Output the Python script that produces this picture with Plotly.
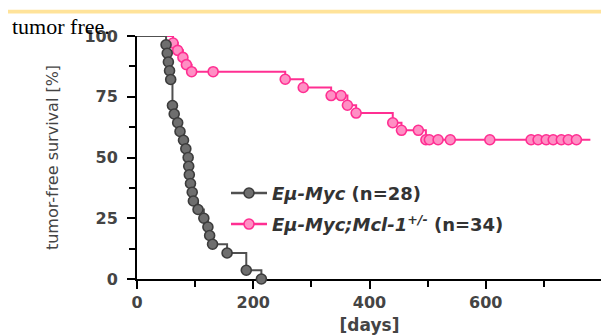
import plotly.graph_objects as go

# ---- data (Kaplan-Meier step points) ----
# Eμ-Myc (n=28): day of each step and % tumor-free after the step
myc_days = [50, 52, 54, 56, 58, 61, 64, 70, 74, 80, 84, 88, 89, 90, 92, 95, 97,
            105, 115, 122, 125, 130, 155, 188, 214]
myc_surv = [96.4, 92.9, 89.3, 85.7, 82.1, 71.4, 67.9, 64.3, 60.7, 57.1, 53.6,
            50.0, 46.4, 42.9, 39.3, 35.7, 32.1, 28.6, 25.0, 21.4, 17.9, 14.3,
            10.7, 3.6, 0.0]
myc_end_day = 214

# Eμ-Myc;Mcl-1+/- (n=34): steps and censored marks
mcl_days = [62, 70, 79, 85, 94, 131, 255, 286, 334, 351, 362, 377, 440, 455,
            484, 497, 503, 518, 539, 607, 678, 690, 704, 716, 730, 742, 756]
mcl_surv = [97.1, 94.1, 91.2, 88.2, 85.3, 85.3, 82.2, 78.8, 75.5, 75.5, 71.5,
            68.3, 64.3, 61.2, 61.2, 57.3, 57.3, 57.3, 57.3, 57.3, 57.3, 57.3,
            57.3, 57.3, 57.3, 57.3, 57.3]
mcl_end_day = 780

series_names = ["<i>Eμ-Myc</i> (n=28)", "<i>Eμ-Myc;Mcl-1<sup>+/-</sup></i> (n=34)"]

x_ticks = [0, 200, 400, 600, 800]
x_minor = [100, 300, 500, 700]
y_ticks = [0, 25, 50, 75, 100]
y_minor = [12.5, 37.5, 62.5, 87.5]

# ---- styles ----
GRAY_LINE, GRAY_FILL, GRAY_EDGE = "#505050", "#6e6e6e", "#3c3c3c"
PINK_LINE, PINK_FILL, PINK_EDGE = "#ff2f92", "#ff8fc4", "#ff2f92"

W, H = 609, 336
ML, MR, MT, MB = 129, 15, 28, 50
PW, PH = W - ML - MR, H - MT - MB


def px_x(p):
    return (p - ML) / PW


def px_y(p):
    return (H - MB - p) / PH


fig = go.Figure()

def add_series(days, surv, end_day, name, lc, fc, ec, legend):
    xs = [0] + days + ([end_day] if end_day > days[-1] else [])
    ys = [100] + surv + ([surv[-1]] if end_day > days[-1] else [])
    fig.add_trace(go.Scatter(x=xs, y=ys, mode="lines", line=dict(color=lc, width=2, shape="hv"),
                             showlegend=False, cliponaxis=False, hoverinfo="skip"))
    fig.add_trace(go.Scatter(x=days, y=surv, mode="markers",
                             marker=dict(symbol="circle", size=10, color=fc, line=dict(color=ec, width=1.6)),
                             showlegend=False, cliponaxis=False))
    fig.add_trace(go.Scatter(x=[None], y=[None], mode="lines+markers", name=name,
                             line=dict(color=lc, width=2.5),
                             marker=dict(symbol="circle", size=10, color=fc, line=dict(color=ec, width=1.6)),
                             legend=legend))

add_series(mcl_days, mcl_surv, mcl_end_day, series_names[1], PINK_LINE, PINK_FILL, PINK_EDGE, "legend2")
add_series(myc_days, myc_surv, myc_end_day, series_names[0], GRAY_LINE, GRAY_FILL, GRAY_EDGE, "legend")

tick_font = dict(family="DejaVu Sans", size=16, color="#444", weight="bold")
axis_common = dict(showline=True, linecolor="black", linewidth=2, ticks="outside", ticklen=8,
                   tickwidth=2, tickcolor="black", showgrid=False, zeroline=False,
                   tickfont=tick_font, layer="below traces")

legend_common = dict(xanchor="left", yanchor="middle", bgcolor="rgba(0,0,0,0)",
                     font=dict(family="DejaVu Sans", size=18, color="#333", weight="bold"),
                     itemwidth=36, borderwidth=0)

fig.update_layout(
    width=W, height=H,
    margin=dict(l=ML, r=MR, t=MT, b=MB),
    paper_bgcolor="white", plot_bgcolor="white",
    xaxis=dict(range=[0, 800], tickmode="array", tickvals=x_ticks,
               minor=dict(tickvals=x_minor, ticks="outside", ticklen=6, tickwidth=2, tickcolor="black"),
               title=dict(text="<b>[days]</b>", font=dict(family="DejaVu Sans", size=17, color="#444"), standoff=8),
               **axis_common),
    yaxis=dict(range=[0, 100], tickmode="array", tickvals=y_ticks, ticklabelstandoff=6,
               minor=dict(tickvals=y_minor, ticks="outside", ticklen=6, tickwidth=2, tickcolor="black"),
               title=dict(text="tumor-free survival [%]", font=dict(family="DejaVu Sans", size=16, color="#444"), standoff=22),
               **axis_common),
    legend=dict(x=px_x(218), y=px_y(195), **legend_common),
    legend2=dict(x=px_x(218), y=px_y(228), **legend_common),
    shapes=[dict(type="rect", xref="paper", yref="paper", x0=px_x(0), x1=px_x(W),
                 y0=px_y(0), y1=px_y(4), fillcolor="#ffe39a", line=dict(width=0), layer="above")],
    annotations=[dict(text="tumor free.", xref="paper", yref="paper", x=px_x(2), y=px_y(18),
                      xanchor="left", yanchor="middle", showarrow=False,
                      font=dict(family="Liberation Serif", size=22, color="black"))],
)

fig.write_html("out.html")
